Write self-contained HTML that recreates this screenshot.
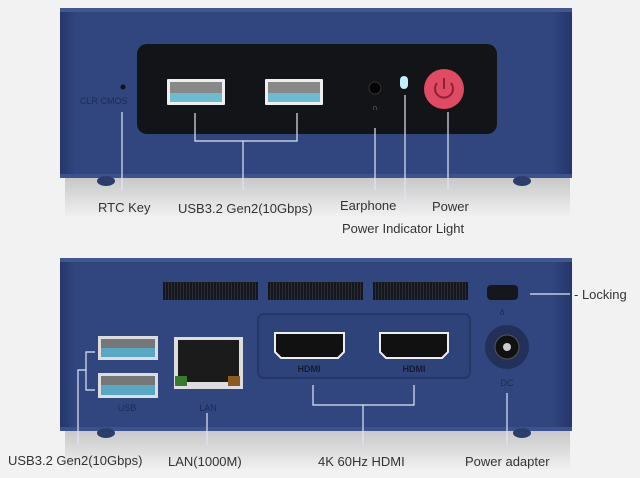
<!DOCTYPE html>
<html><head><style>
html,body{margin:0;padding:0;background:#f2f2f2;}
svg{display:block;font-family:"Liberation Sans",sans-serif;}
</style></head><body>
<svg width="640" height="478" viewBox="0 0 640 478" xmlns="http://www.w3.org/2000/svg">
<defs>
<linearGradient id="bx" x1="0" x2="1" y1="0" y2="0">
<stop offset="0" stop-color="#25366a"/><stop offset="0.03" stop-color="#31467f"/><stop offset="0.96" stop-color="#31467f"/><stop offset="1" stop-color="#25366a"/>
</linearGradient>
<linearGradient id="sh" x1="0" x2="0" y1="0" y2="1">
<stop offset="0" stop-color="#c8c8c8"/><stop offset="1" stop-color="#f2f2f2"/>
</linearGradient>
<pattern id="vent" width="3" height="18" patternUnits="userSpaceOnUse">
<rect width="3" height="18" fill="#15171d"/><rect width="1" height="18" fill="#2a2d36"/>
</pattern>
</defs>
<rect width="640" height="478" fill="#f2f2f2"/>
<rect x="65" y="178" width="505" height="40" fill="url(#sh)"/>
<rect x="65" y="431" width="505" height="40" fill="url(#sh)"/>
<!-- top box -->
<rect x="60" y="8" width="512" height="170" rx="4" fill="url(#bx)"/>
<rect x="60" y="8" width="512" height="4" fill="#42578f"/>
<rect x="60" y="174" width="512" height="4" fill="#3c5190"/>
<ellipse cx="106" cy="181" rx="9" ry="5" fill="#2c3d6c"/>
<ellipse cx="522" cy="181" rx="9" ry="5" fill="#2c3d6c"/>
<rect x="137" y="44" width="360" height="90" rx="10" fill="#131418"/>
<g>
<rect x="167" y="79" width="58" height="26" fill="#eee" rx="1"/>
<rect x="170" y="82" width="52" height="20" fill="#888"/>
<rect x="170" y="93" width="52" height="9" fill="#6bbcd0"/>
<rect x="265" y="79" width="58" height="26" fill="#eee" rx="1"/>
<rect x="268" y="82" width="52" height="20" fill="#888"/>
<rect x="268" y="93" width="52" height="9" fill="#6bbcd0"/>
</g>
<circle cx="375" cy="88" r="6" fill="#000" stroke="#333"/>
<text x="375" y="110" font-size="8" fill="#888" text-anchor="middle">∩</text>
<rect x="400" y="76" width="8" height="13" rx="4" fill="#bff0f8"/>
<circle cx="444" cy="89" r="20" fill="#e04a62"/>
<path d="M437 83 A9 9 0 1 0 451 83" fill="none" stroke="#8a2434" stroke-width="2"/>
<line x1="444" y1="78" x2="444" y2="89" stroke="#8a2434" stroke-width="2"/>
<circle cx="123" cy="87" r="2.5" fill="#111"/>
<text x="80" y="104" font-size="9" fill="#1e2a50">CLR CMOS</text>
<g stroke="#dfe6f5" stroke-width="1.2" fill="none">
<line x1="122" y1="112" x2="122" y2="190"/>
<polyline points="195,113 195,141 297,141 297,113"/>
<line x1="243" y1="141" x2="243" y2="190"/>
<line x1="375" y1="128" x2="375" y2="190"/>
<line x1="405" y1="95" x2="405" y2="212"/>
<line x1="448" y1="112" x2="448" y2="190"/>
</g>
<g fill="#333" font-size="13">
<text x="98" y="212">RTC Key</text>
<text x="178" y="213">USB3.2 Gen2(10Gbps)</text>
<text x="340" y="210">Earphone</text>
<text x="432" y="211">Power</text>
<text x="342" y="233">Power Indicator Light</text>
</g>
<!-- bottom box -->
<rect x="60" y="258" width="512" height="173" rx="4" fill="url(#bx)"/>
<rect x="60" y="258" width="512" height="4" fill="#42578f"/>
<rect x="60" y="427" width="512" height="4" fill="#3c5190"/>
<ellipse cx="106" cy="433" rx="9" ry="5" fill="#2c3d6c"/>
<ellipse cx="522" cy="433" rx="9" ry="5" fill="#2c3d6c"/>
<rect x="163" y="282" width="95" height="18" fill="url(#vent)"/>
<rect x="268" y="282" width="95" height="18" fill="url(#vent)"/>
<rect x="373" y="282" width="95" height="18" fill="url(#vent)"/>
<rect x="487" y="285" width="31" height="15" rx="4" fill="#15171d"/>
<text x="502" y="315" font-size="8" fill="#1e2a50" text-anchor="middle">ð</text>
<rect x="258" y="314" width="212" height="64" rx="6" fill="#2f437b" stroke="#263766" stroke-width="2"/>
<path d="M275 333 H344 V352 L338 358 H281 L275 352 Z" fill="#111" stroke="#eee" stroke-width="2"/>
<path d="M380 333 H448 V352 L442 358 H386 L380 352 Z" fill="#111" stroke="#eee" stroke-width="2"/>
<text x="309" y="372" font-size="9" font-weight="bold" fill="#151a2e" text-anchor="middle">HDMI</text>
<text x="414" y="372" font-size="9" font-weight="bold" fill="#151a2e" text-anchor="middle">HDMI</text>
<circle cx="507" cy="347" r="22" fill="#22305a"/>
<circle cx="507" cy="347" r="12" fill="#111" stroke="#555"/>
<circle cx="507" cy="347" r="4" fill="#ccc"/>
<text x="507" y="386" font-size="9" fill="#1e2a50" text-anchor="middle">DC</text>
<rect x="98" y="336" width="60" height="24" fill="#ddd"/>
<rect x="101" y="339" width="54" height="18" fill="#777"/>
<rect x="101" y="348" width="54" height="9" fill="#58a8c4"/>
<rect x="98" y="373" width="60" height="25" fill="#ddd"/>
<rect x="101" y="376" width="54" height="19" fill="#777"/>
<rect x="101" y="385" width="54" height="10" fill="#58a8c4"/>
<rect x="174" y="337" width="69" height="52" fill="#ddd"/>
<rect x="178" y="340" width="61" height="42" fill="#1b1b1b"/>
<rect x="175" y="376" width="12" height="10" fill="#3a7a30"/>
<rect x="228" y="376" width="12" height="10" fill="#8a5a20"/>
<text x="127" y="411" font-size="9" fill="#1e2a50" text-anchor="middle">USB</text>
<text x="208" y="411" font-size="9" fill="#1e2a50" text-anchor="middle">LAN</text>
<g stroke="#dfe6f5" stroke-width="1.2" fill="none">
<polyline points="95,352 86,352 86,390 95,390"/>
<polyline points="86,370 78,370 78,445"/>
<line x1="207" y1="413" x2="207" y2="445"/>
<polyline points="313,385 313,405 414,405 414,385"/>
<line x1="363" y1="405" x2="363" y2="445"/>
<line x1="507" y1="393" x2="507" y2="445"/>
<line x1="530" y1="294" x2="570" y2="294"/>
</g>
<g fill="#333" font-size="13">
<text x="8" y="465">USB3.2 Gen2(10Gbps)</text>
<text x="168" y="466">LAN(1000M)</text>
<text x="318" y="466">4K 60Hz HDMI</text>
<text x="465" y="466">Power adapter</text>
<text x="574" y="299">- Locking</text>
</g>
</svg>
</body></html>
